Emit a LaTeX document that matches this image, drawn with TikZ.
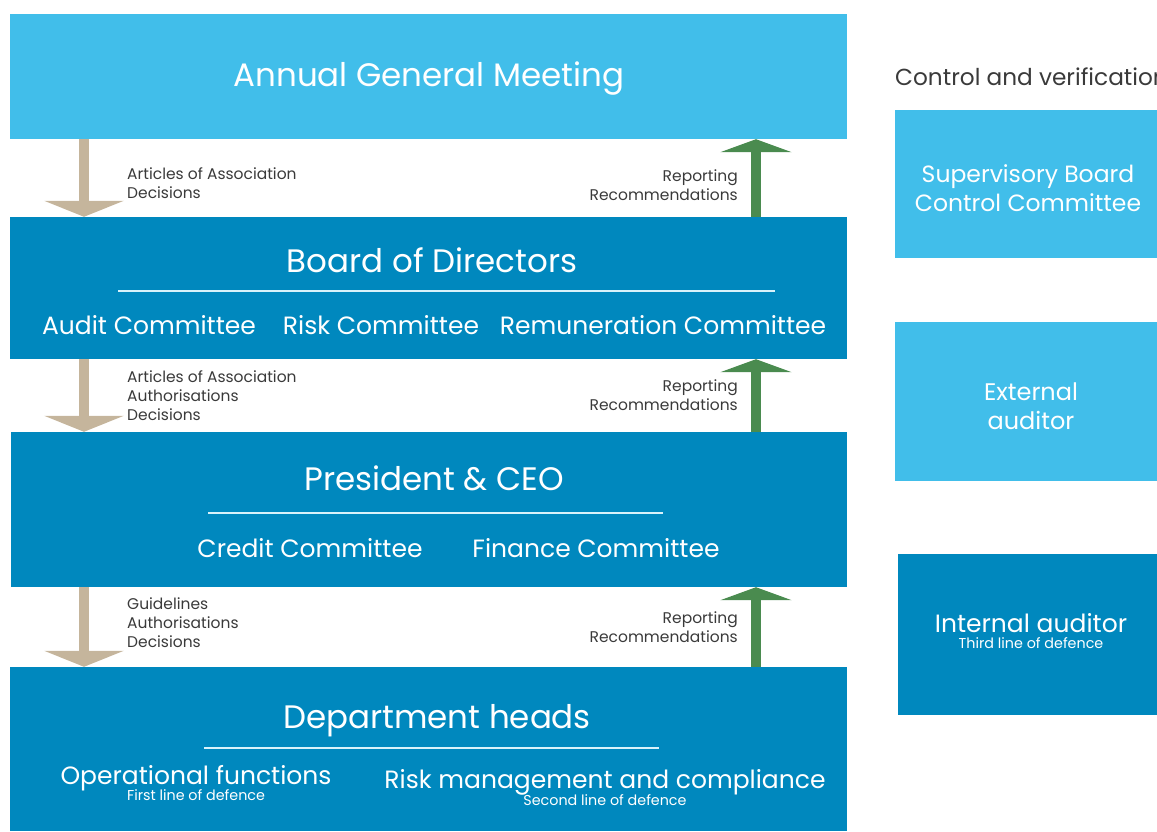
\documentclass[tikz,border=0pt]{standalone}
\usepackage{fontspec}
\setmainfont{Poppins}
\usetikzlibrary{arrows.meta}

\definecolor{lightblue}{HTML}{41BEEA}
\definecolor{darkblue}{HTML}{0088BE}
\definecolor{tanarrow}{HTML}{C5B59C}
\definecolor{greenarrow}{HTML}{4A8B4F}
\definecolor{labelgrey}{HTML}{3A3A3A}

\begin{document}
\begin{tikzpicture}[x=1pt, y=-1pt,
    lightbox/.style={fill=lightblue, draw=none, inner sep=0pt},
    darkbox/.style={fill=darkblue, draw=none, inner sep=0pt},
    bigtext/.style={text=white, inner sep=0pt, anchor=base, font=\fontsize{32.5}{38}\selectfont},
    midtext/.style={text=white, inner sep=0pt, anchor=base, font=\fontsize{25}{29}\selectfont},
    subtext/.style={text=white, inner sep=0pt, anchor=base, font=\fontsize{14.3}{17}\selectfont},
    smalllabel/.style={text=labelgrey, inner sep=0pt, font=\fontsize{15.5}{18.8}\selectfont},
    rule/.style={draw=white!80!lightblue, line width=1.2pt},
    downarr/.style={draw=tanarrow, line width=10pt, -{Triangle[width=79pt, length=16pt]}},
    uparr/.style={draw=greenarrow, line width=10pt, -{Triangle[width=71pt, length=13pt]}}]
    \useasboundingbox (0,0) rectangle (1157,831);
    \clip (0,0) rectangle (1157,831);

    % main column
    \node[lightbox, minimum width=837pt, minimum height=125pt] (agm) at (428.5,76.5) {};
    \node[darkbox, minimum width=837pt, minimum height=142pt] (board) at (428.5,288) {};
    \node[darkbox, minimum width=836pt, minimum height=155pt] (ceo) at (429,509.5) {};
    \node[darkbox, minimum width=837pt, minimum height=164pt] (dept) at (428.5,749) {};

    \node[bigtext] (agmtxt) at (429,86) {Annual General Meeting};

    \node[bigtext] (boardtxt) at (432,272) {Board of Directors};
    \draw[rule] (118,291) coordinate (r1a) -- (775,291) coordinate (r1b);
    \node[midtext] (audit) at (149,334) {Audit Committee};
    \node[midtext] (risk) at (381,334) {Risk Committee};
    \node[midtext] (remun) at (663,334) {Remuneration Committee};

    \node[bigtext] (ceotxt) at (434,490) {President \& CEO};
    \draw[rule] (208,513) coordinate (r2a) -- (663,513) coordinate (r2b);
    \node[midtext] (credit) at (310,557) {Credit Committee};
    \node[midtext] (finance) at (596,557) {Finance Committee};

    \node[bigtext] (depttxt) at (437,728) {Department heads};
    \draw[rule] (204,748) coordinate (r3a) -- (659,748) coordinate (r3b);
    \node[midtext] (oper) at (196,784) {Operational functions};
    \node[subtext] (first) at (196,800) {First line of defence};
    \node[midtext] (riskman) at (605,788) {Risk management and compliance};
    \node[subtext] (second) at (605,805) {Second line of defence};

    % arrows between the levels
    \coordinate (dl) at (84,0);
    \coordinate (ul) at (756,0);
    \draw[downarr] (agm.south -| dl) -- (board.north -| dl);
    \draw[uparr] (board.north -| ul) -- (agm.south -| ul);
    \draw[downarr] (board.south -| dl) -- (ceo.north -| dl);
    \draw[uparr] (ceo.north -| ul) -- (board.south -| ul);
    \draw[downarr] (ceo.south -| dl) -- (dept.north -| dl);
    \draw[uparr] (dept.north -| ul) -- (ceo.south -| ul);

    \node[smalllabel, anchor=base west, align=left] (lab1) at (127,198) {Articles of Association\\Decisions};
    \node[smalllabel, anchor=base east, align=right] (rep1) at (738,200) {Reporting\\Recommendations};
    \node[smalllabel, anchor=base west, align=left] (lab2) at (127,420) {Articles of Association\\Authorisations\\Decisions};
    \node[smalllabel, anchor=base east, align=right] (rep2) at (738,410) {Reporting\\Recommendations};
    \node[smalllabel, anchor=base west, align=left] (lab3) at (127,647) {Guidelines\\Authorisations\\Decisions};
    \node[smalllabel, anchor=base east, align=right] (rep3) at (738,642) {Reporting\\Recommendations};

    % control column
    \node[text=labelgrey, inner sep=0pt, anchor=base west, font=\fontsize{23.2}{27}\selectfont] (ctrl) at (895,85) {Control and verification};
    \node[lightbox, minimum width=262pt, minimum height=148pt] (sup) at (1026,184) {};
    \node[midtext, align=center, anchor=center, font=\fontsize{23.5}{29}\selectfont] (suptxt) at (1028,188.5) {Supervisory Board\\Control Committee};
    \node[lightbox, minimum width=262pt, minimum height=159pt] (ext) at (1026,401.5) {};
    \node[midtext, align=center, anchor=center, font=\fontsize{24}{29}\selectfont] (exttxt) at (1031,406.5) {External\\auditor};
    \node[darkbox, minimum width=259pt, minimum height=161pt] (int) at (1027.5,634.5) {};
    \node[midtext] (inttxt) at (1031,632) {Internal auditor};
    \node[subtext] (third) at (1031,648) {Third line of defence};
\end{tikzpicture}
\end{document}
